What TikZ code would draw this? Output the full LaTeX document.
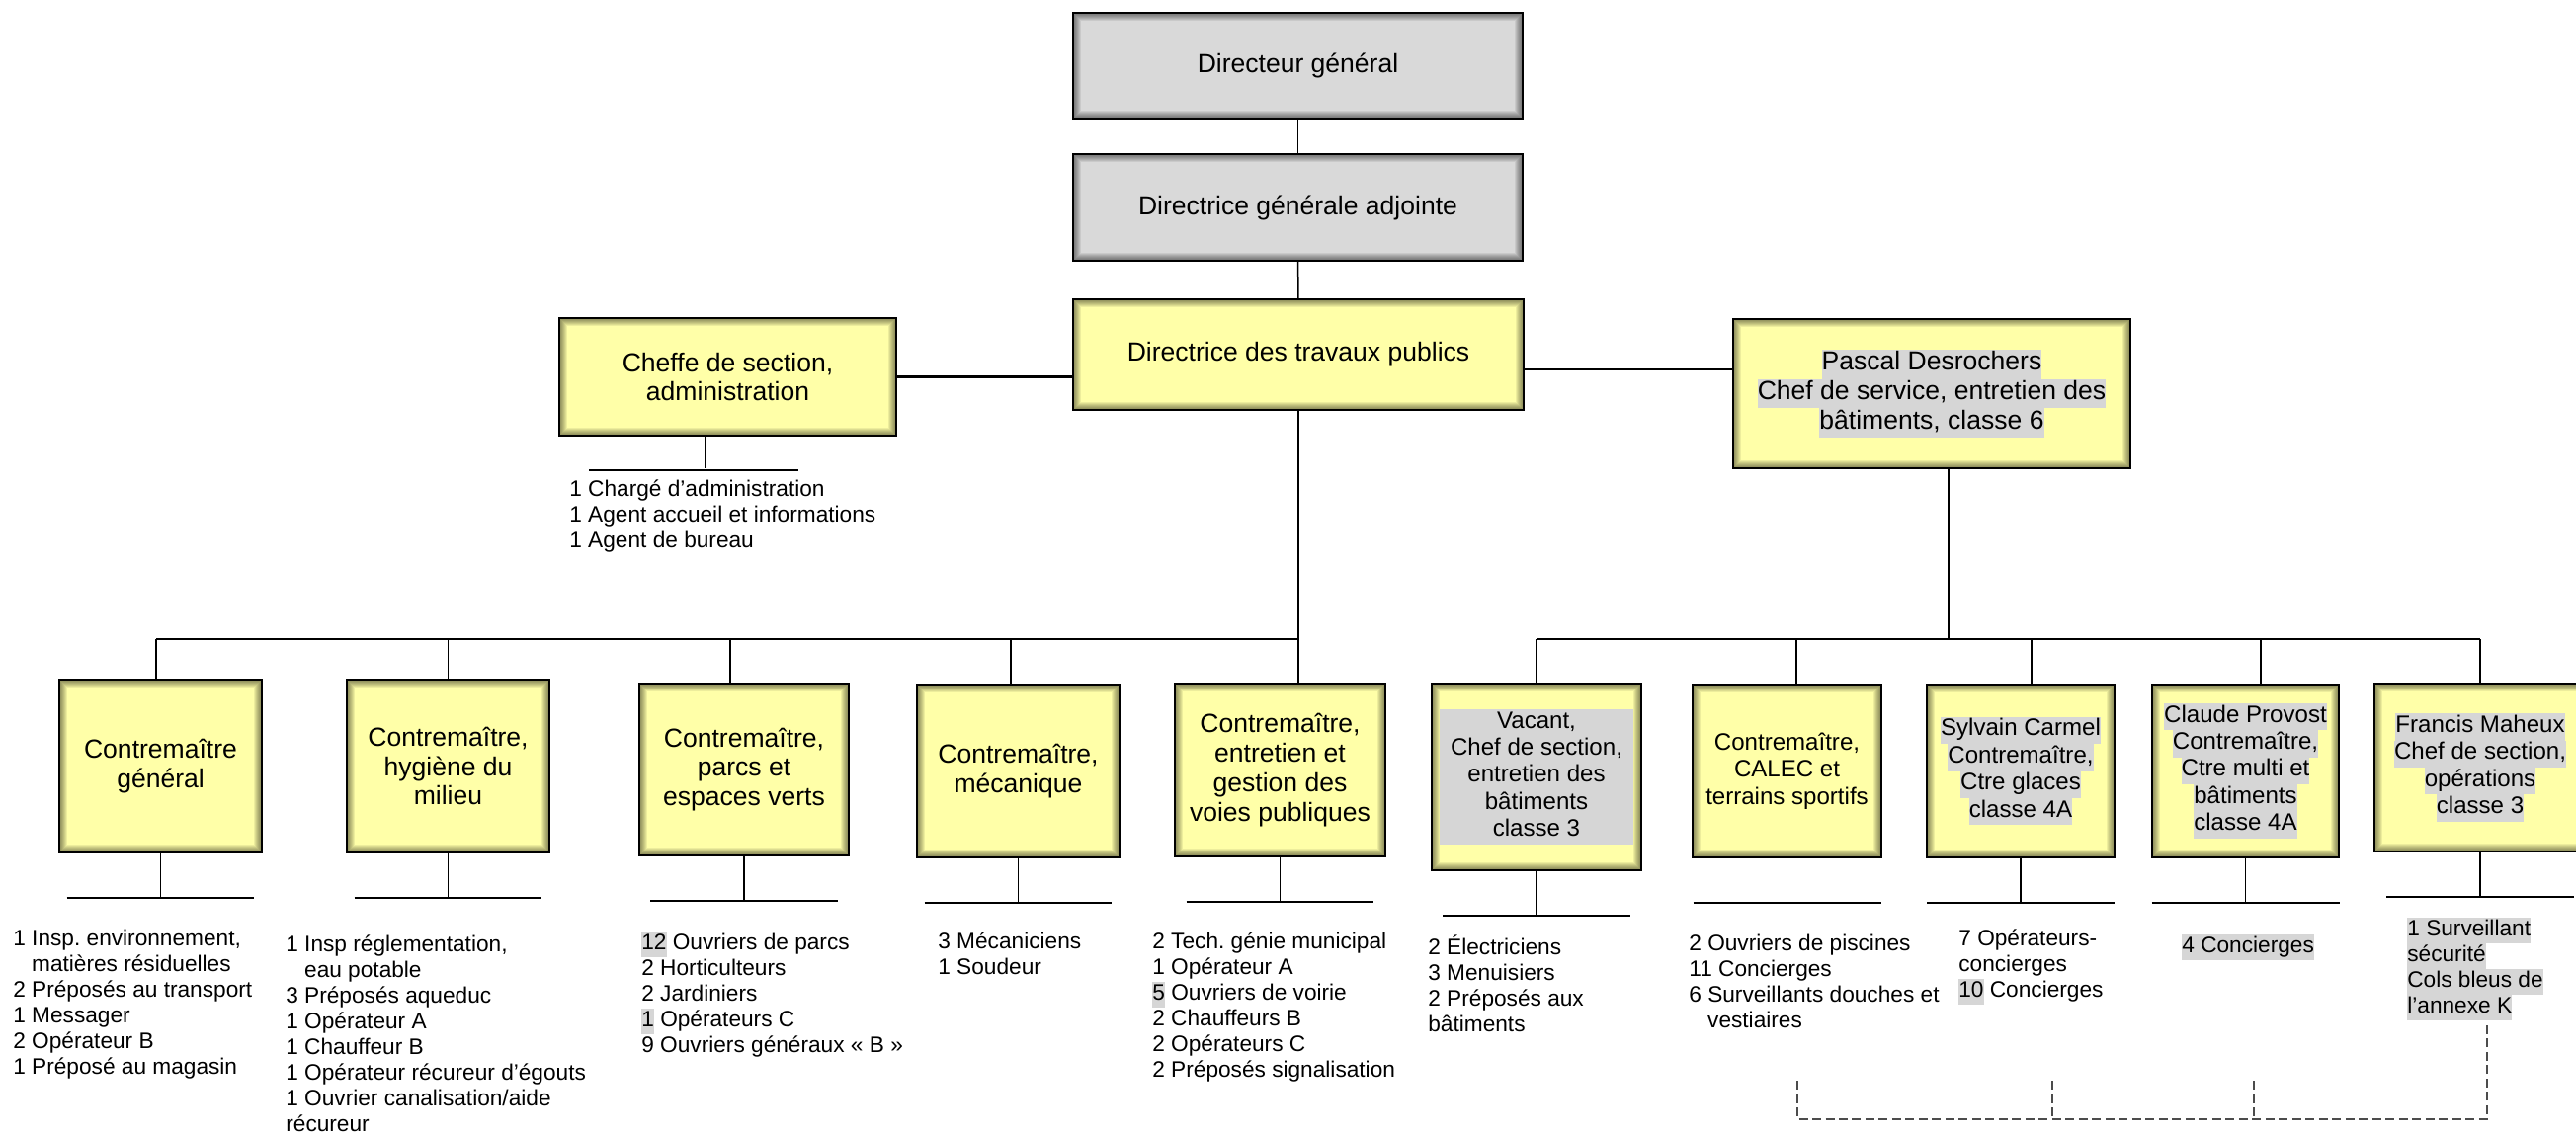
\documentclass[tikz,border=0pt]{standalone}
\usepackage{fontspec}
\setmainfont{Liberation Sans}
\usepackage{tikz}
\usetikzlibrary{positioning}
\usetikzlibrary{calc}
\definecolor{boxyellow}{HTML}{FFFFA8}
\definecolor{boxgray}{HTML}{D9D9D9}
\definecolor{hlgray}{HTML}{D6D6D6}
\newcommand{\hlt}[1]{{\setlength{\fboxsep}{0pt}\colorbox{hlgray}{\strut #1}}}
\frenchspacing

\begin{document}
\begin{tikzpicture}[x=0.02cm, y=-0.02cm,
  postbox/.style={draw, rectangle, line width=0.04cm, fill=boxyellow, align=center, inner sep=2pt,
    font=\fontsize{15.1}{17}\selectfont, minimum width=4.1cm, minimum height=3.5cm,
    path picture={\foreach \k in {1,...,8}
      \draw[black, opacity=.07, line width=\k*0.04cm]
        (path picture bounding box.north west) rectangle (path picture bounding box.south east);}},
  headbox/.style={postbox, fill=boxgray, minimum width=9.1cm},
  hlbox/.style={font=\fontsize{13.7}{15.6}\selectfont},
  stafflist/.style={anchor=north west, inner sep=0pt, align=left,
    font=\fontsize{12.9}{14.8}\selectfont, execute at begin node=\strut},
  wire/.style={line width=0.03cm},
  buswire/.style={line width=0.045cm},
  teewire/.style={line width=0.05cm},
  dashwire/.style={line width=0.03cm, black!70, dash pattern=on 0.18cm off 0.09cm}
]
  \useasboundingbox (0,0) rectangle (2607,1149);

  \node[headbox, minimum height=2.14cm] (dg) at (1313.5,66.5) {Directeur général};
  \node[headbox, minimum height=2.16cm] (dga) at (1313.5,210) {Directrice générale adjointe};
  \node[postbox, minimum width=9.12cm, minimum height=2.24cm] (dtp) at (1314,359) {Directrice des travaux publics};
  \node[postbox, minimum width=6.82cm, minimum height=2.38cm] (adm) at (736.5,381.5) {Cheffe de section,\\administration};
  \node[postbox, minimum width=8.04cm, minimum height=3.02cm] (pascal) at (1955,398.5) {\hlt{Pascal Desrochers}\\\hlt{Chef de service, entretien des}\\\hlt{bâtiments, classe 6}};

  \node[postbox] (cg) at (162.5,775.5) {Contremaître\\général};
  \node[postbox] (hyg) at (453.5,775.5) {Contremaître,\\hygiène du\\milieu};
  \node[postbox, minimum width=4.24cm, minimum height=3.48cm] (parcs) at (753,779) {Contremaître,\\parcs et\\espaces verts};
  \node[postbox] (meca) at (1030.5,780.5) {Contremaître,\\mécanique};
  \node[postbox, minimum width=4.26cm] (voies) at (1295.5,779.5) {Contremaître,\\entretien et\\gestion des\\voies publiques};
  \node[postbox, hlbox, minimum width=4.24cm, minimum height=3.78cm] (vacant) at (1555,786.5) {\setlength{\fboxsep}{0pt}\colorbox{hlgray}{\parbox{3.92cm}{\centering\strut Vacant,\\Chef de section,\\entretien des\\bâtiments\\classe 3\strut}}};
  \node[postbox, hlbox, minimum width=3.82cm] (calec) at (1808.5,780.5) {Contremaître,\\CALEC et\\terrains sportifs};
  \node[postbox, hlbox, minimum width=3.8cm] (sylvain) at (2045,780.5) {\hlt{Sylvain Carmel}\\\hlt{Contremaître,}\\\hlt{Ctre glaces}\\\hlt{classe 4A}};
  \node[postbox, hlbox, minimum width=3.78cm] (claude) at (2272.5,780.5) {\hlt{Claude Provost}\\\hlt{Contremaître,}\\\hlt{Ctre multi et}\\\hlt{bâtiments}\\\hlt{classe 4A}};
  \node[postbox, hlbox, minimum width=4.28cm, minimum height=3.4cm] (francis) at (2510,777) {\hlt{Francis Maheux}\\\hlt{Chef de section,}\\\hlt{opérations}\\\hlt{classe 3}};

  \node[stafflist] (adm_list) at (576,485) {1 Chargé d’administration\\1 Agent accueil et informations\\1 Agent de bureau};
  \node[stafflist] (cg_list) at (13,941) {1 Insp. environnement,\\\hspace*{.83em}matières résiduelles\\2 Préposés au transport\\1 Messager\\2 Opérateur B\\1 Préposé au magasin};
  \node[stafflist] (hyg_list) at (289,946) {1 Insp réglementation,\\\hspace*{.83em}eau potable\\3 Préposés aqueduc\\1 Opérateur A\\1 Chauffeur B\\1 Opérateur récureur d’égouts\\1 Ouvrier canalisation/aide\\récureur};
  \node[stafflist] (parcs_list) at (649,943) {\hlt{12} Ouvriers de parcs\\2 Horticulteurs\\2 Jardiniers\\\hlt{1} Opérateurs C\\9 Ouvriers généraux «~B~»};
  \node[stafflist] (meca_list) at (949,943) {3 Mécaniciens\\1 Soudeur};
  \node[stafflist] (voies_list) at (1166,943) {2 Tech. génie municipal\\1 Opérateur A\\\hlt{5} Ouvriers de voirie\\2 Chauffeurs B\\2 Opérateurs C\\2 Préposés signalisation};
  \node[stafflist] (vacant_list) at (1445,946) {2 Électriciens\\3 Menuisiers\\2 Préposés aux\\bâtiments};
  \node[stafflist] (calec_list) at (1709,946) {2 Ouvriers de piscines\\11 Concierges\\6 Surveillants douches et\\\hspace*{.83em}vestiaires};
  \node[stafflist] (sylvain_list) at (1982,940) {7 Opérateurs-\\concierges\\\hlt{10} Concierges};
  \node[stafflist] (claude_list) at (2208,946) {\hlt{4 Concierges}};
  \node[stafflist] (francis_list) at (2436,929) {\hlt{1 Surveillant}\\\hlt{sécurité}\\\hlt{Cols bleus de}\\\hlt{l’annexe K}};

  \path[wire] (dg) edge (dga) (dga) edge (dtp);
  \path[buswire] (adm.east) edge (adm.east -| dtp.west);
  \coordinate (dtpR) at ([yshift=-0.3cm]dtp.east);
  \path[buswire] (dtpR) edge (dtpR -| pascal.west);

  \coordinate (busL) at (158,647);
  \draw[buswire] (busL) -- (busL -| dtp.south);
  \path[wire] (dtp.south) edge (dtp.south |- voies.north);
  \foreach \n/\d in {cg/-0.09,hyg/0,parcs/-0.28,meca/-0.15} {
    \coordinate (drop) at ([xshift=\d cm]\n.north);
    \path[wire] (drop |- busL) edge (drop);
  }

  \draw[buswire] (vacant.north |- busL) -- (francis.north |- busL);
  \coordinate (pascalS) at ([xshift=0.34cm]pascal.south);
  \path[wire] (pascalS) edge (pascalS |- busL);
  \foreach \n/\d in {vacant/0,calec/0.19,sylvain/0.22,claude/0.31,francis/0} {
    \coordinate (drop) at ([xshift=\d cm]\n.north);
    \path[wire] (drop |- busL) edge (drop);
  }

  \foreach \n in {cg,hyg,parcs,meca,voies,vacant,calec,sylvain,claude,francis} {
    \path[wire] (\n.south) edge ([yshift=-0.9cm]\n.south);
    \draw[teewire] ([shift={(-1.9cm,-0.9cm)}]\n.south) -- ([shift={(1.9cm,-0.9cm)}]\n.south);
  }
  \coordinate (admS) at ([xshift=-0.45cm]adm.south);
  \path[wire] (admS) edge ([yshift=-0.64cm]admS);
  \draw[teewire] ([shift={(-2.36cm,-0.68cm)}]admS) -- ([shift={(1.88cm,-0.68cm)}]admS);

  \coordinate (k1) at (1819,1094);
  \coordinate (k2) at (2077,1094);
  \coordinate (k3) at (2281,1094);
  \coordinate (k4) at (2517,1036);
  \coordinate (kbase) at (0,1133);
  \draw[dashwire] (k1) -- (k1 |- kbase) -- (k4 |- kbase) -- (k4);
  \draw[dashwire] (k2) -- (k2 |- kbase);
  \draw[dashwire] (k3) -- (k3 |- kbase);
\end{tikzpicture}
\end{document}
